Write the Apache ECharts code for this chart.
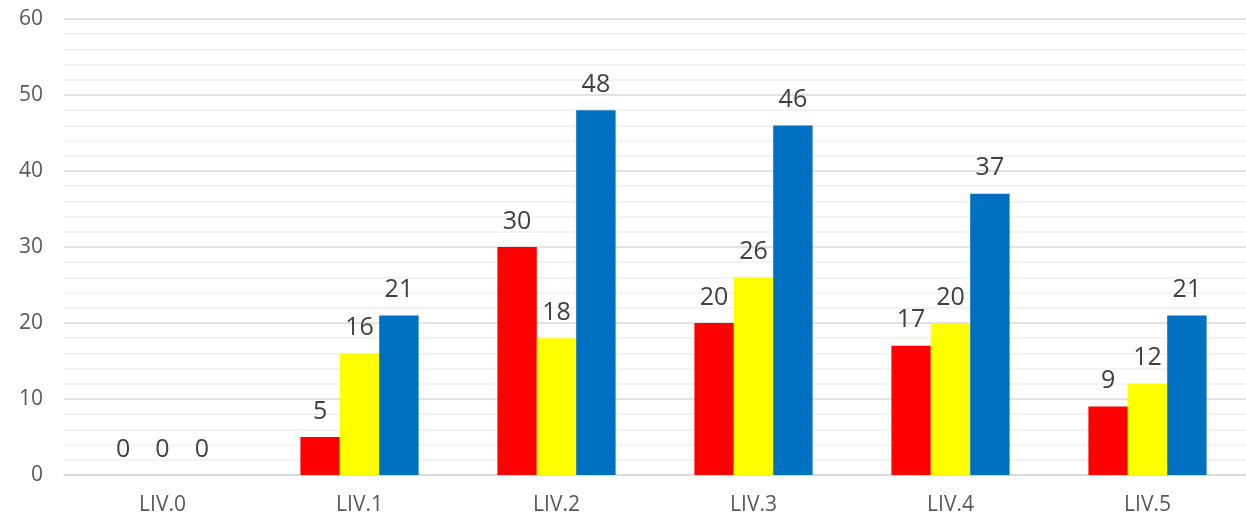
<!DOCTYPE html>
<html>
<head>
<meta charset="utf-8">
<script src="https://cdn.jsdelivr.net/npm/echarts@6/dist/echarts.min.js"></script>
<style>
  html, body { margin: 0; padding: 0; background: #fff; }
  #main { width: 1246px; height: 522px; }
</style>
</head>
<body>
<div id="main"></div>
<script>
var categories = ['LIV.0', 'LIV.1', 'LIV.2', 'LIV.3', 'LIV.4', 'LIV.5']
var redValues = [0, 5, 30, 20, 17, 9]
var yellowValues = [0, 16, 18, 26, 20, 12]
var blueValues = [0, 21, 48, 46, 37, 21]

var myChart = echarts.init(document.getElementById('main'))

function barSeries (data, color) {
    return {
        type: 'bar',
        data: data,
        barGap: '0%',
        barCategoryGap: '40%',
        itemStyle: { color: color },
        label: {
            show: true,
            position: 'top',
            distance: 13,
            fontSize: 25,
            color: '#404040',
            fontFamily: 'Open Sans'
        }
    }
}

var option = {
    animation: false,
    grid: { left: 64, width: 1187, top: 19, bottom: 47 },
    xAxis: {
        type: 'category',
        data: categories,
        axisTick: { show: false },
        axisLine: { lineStyle: { color: '#d9d9d9', width: 1.5 } },
        axisLabel: { color: '#595959', fontSize: 21, margin: 20, fontFamily: 'Open Sans' }
    },
    yAxis: {
        type: 'value',
        min: 0,
        max: 60,
        interval: 10,
        axisLine: { show: false },
        axisTick: { show: false },
        axisLabel: { color: '#595959', fontSize: 21, margin: 21, fontFamily: 'Open Sans' },
        splitLine: { lineStyle: { color: '#d9d9d9', width: 1.5 } },
        minorTick: { show: false, splitNumber: 5 },
        minorSplitLine: { show: true, lineStyle: { color: '#f0f0f0', width: 1.5 } }
    },
    series: [
        barSeries(redValues, '#ff0000'),
        barSeries(yellowValues, '#ffff00'),
        barSeries(blueValues, '#0070c0')
    ]
}
myChart.setOption(option)
</script>
</body>
</html>
